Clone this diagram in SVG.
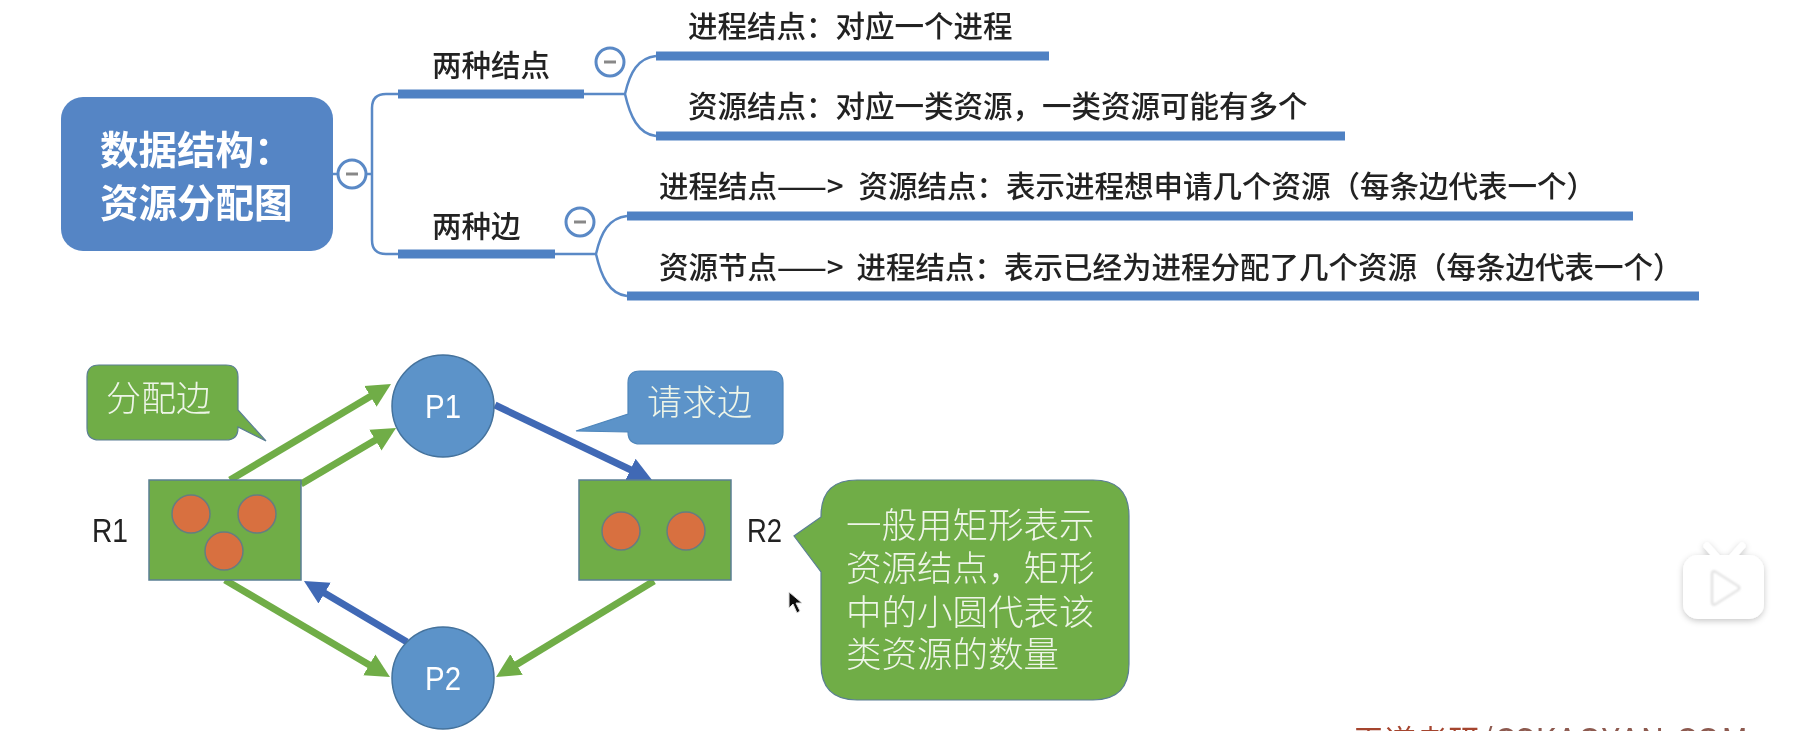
<svg xmlns="http://www.w3.org/2000/svg" width="1797" height="731" viewBox="0 0 1797 731">
<defs>
<style>
text{font-family:"Noto Sans CJK SC","Liberation Sans",sans-serif}
.dark{fill:#222}
.m{font-size:29.5px;font-weight:500}
.lat{font-family:"Liberation Sans",sans-serif;font-size:33px}
.root{font-size:38.5px;font-weight:700;fill:#fff}
.lt{font-weight:300;fill:#eef5e8}
.bar{fill:#4f81c3}
.link{fill:none;stroke:#5a89c6;stroke-width:2.5}
.toggle{fill:#fff;stroke:#5a89c6;stroke-width:3}
.minus{stroke:#888;stroke-width:3}
.ga{fill:none;stroke:#70ad47;stroke-width:7;marker-end:url(#g)}
.ba{fill:none;stroke:#4169b5;stroke-width:7;marker-end:url(#b)}
.res{fill:#70ad47;stroke:#5b7f94;stroke-width:1.5}
.tok{fill:#d86f3f;stroke:#667d80;stroke-width:1.5}
.proc{fill:#5b93c9;stroke:#44729c;stroke-width:1.5}
.pt{font-family:"Liberation Sans",sans-serif;font-size:33px;fill:#fff}
</style>
<marker id="g" markerUnits="userSpaceOnUse" markerWidth="26" markerHeight="26" refX="10" refY="13" orient="auto"><path d="M0 1 L24 13 L0 25 Z" fill="#70ad47"/></marker>
<marker id="b" markerUnits="userSpaceOnUse" markerWidth="26" markerHeight="26" refX="10" refY="13" orient="auto"><path d="M0 1 L24 13 L0 25 Z" fill="#4169b5"/></marker>
<filter id="soft" x="0" y="0" width="1797" height="760" filterUnits="userSpaceOnUse"><feGaussianBlur stdDeviation="0.6"/></filter>
<filter id="shadow" x="1660" y="530" width="130" height="110" filterUnits="userSpaceOnUse"><feDropShadow dx="0" dy="2" stdDeviation="3" flood-color="#000" flood-opacity="0.22"/></filter>
<filter id="inner" x="1700" y="560" width="60" height="60" filterUnits="userSpaceOnUse"><feGaussianBlur stdDeviation="1.2"/></filter>
</defs>
<rect width="1797" height="731" fill="#fff"/>
<g id="scene" filter="url(#soft)">
<g id="connectors">
<path class="link" d="M333 174H372M398 94H386Q372 94 372 108V240Q372 254 386 254H398"/>
<path class="link" d="M584 94H625M656 56C638 58 630 72 625 94C630 116 638 134 656 136"/>
<path class="link" d="M555 254H596M627 216C609 218 601 232 596 254C601 276 609 294 627 296"/>
<path class="ga" d="M230 480L379 391.2"/>
<path class="ga" d="M301 484L384 435.1"/>
<path class="ba" d="M495 405L639.4 474"/>
<path class="ga" d="M225 580L377.9 669.9"/>
<path class="ba" d="M407 642L316 588.1"/>
<path class="ga" d="M654 581L508 669.7"/>
</g>
<g id="root"><rect x="61" y="97" width="272" height="154" rx="22" fill="#5585c5"/><text class="root" x="100" y="164">数据结构：</text><text class="root" x="100" y="217">资源分配图</text></g>
<g id="toggle-root"><circle class="toggle" cx="352" cy="174" r="14"/><path class="minus" d="M346 174H358"/></g>
<g id="branch-nodes"><rect class="bar" x="398" y="89.5" width="186" height="9"/><text class="m dark" x="432" y="76">两种结点</text></g>
<g id="toggle-nodes"><circle class="toggle" cx="610" cy="62" r="14"/><path class="minus" d="M604 62H616"/></g>
<g id="branch-edges"><rect class="bar" x="398" y="249.5" width="157" height="9"/><text class="m dark" x="432" y="237">两种边</text></g>
<g id="toggle-edges"><circle class="toggle" cx="580" cy="222" r="14"/><path class="minus" d="M574 222H586"/></g>
<g id="leaf-process"><rect class="bar" x="656" y="51.5" width="393" height="9"/><text class="m dark" x="688" y="37">进程结点：对应一个进程</text></g>
<g id="leaf-resource"><rect class="bar" x="656" y="131.5" width="689" height="9"/><text class="m dark" x="688" y="117">资源结点：对应一类资源，一类资源可能有多个</text></g>
<g id="leaf-request"><rect class="bar" x="627" y="211.5" width="1006" height="9"/><text class="m dark" x="659" y="197">进程结点——&gt;<tspan dx="15">资源结点：表示进程想申请几个资源（每条边代表一个）</tspan></text></g>
<g id="leaf-assign"><rect class="bar" x="627" y="291.5" width="1072" height="9"/><text class="m dark" x="659" y="278">资源节点——&gt;<tspan dx="13">进程结点：表示已经为进程分配了几个资源（每条边代表一个）</tspan></text></g>
<g id="R1"><rect class="res" x="149" y="480" width="152" height="100"/><circle class="tok" cx="191" cy="514" r="19"/><circle class="tok" cx="257" cy="514" r="19"/><circle class="tok" cx="224" cy="551" r="19"/><text class="lat dark" x="92" y="542" textLength="36" lengthAdjust="spacingAndGlyphs">R1</text></g>
<g id="R2"><rect class="res" x="579" y="480" width="152" height="100"/><circle class="tok" cx="621" cy="531" r="19"/><circle class="tok" cx="686" cy="531" r="19"/><text class="lat dark" x="747" y="542" textLength="35" lengthAdjust="spacingAndGlyphs">R2</text></g>
<g id="P1"><circle class="proc" cx="443" cy="406" r="51"/><text class="pt" x="425" y="418" textLength="36" lengthAdjust="spacingAndGlyphs">P1</text></g>
<g id="P2"><circle class="proc" cx="443" cy="678" r="51"/><text class="pt" x="425" y="690" textLength="36" lengthAdjust="spacingAndGlyphs">P2</text></g>
<g id="callout-assign"><path d="M99 365H226Q238 365 238 377V410L266 441L238 427V428Q238 440 226 440H99Q87 440 87 428V377Q87 365 99 365Z" fill="#70ad47" stroke="#5b7f94" stroke-width="1.2"/><text class="lt" x="106" y="411" font-size="35">分配边</text></g>
<g id="callout-request"><path d="M640 371H771Q783 371 783 383V432Q783 444 771 444H640Q628 444 628 432L576 431L628 414V383Q628 371 640 371Z" fill="#5b93c9" stroke="#4f86bb" stroke-width="1.2"/><text class="lt" x="647" y="415" font-size="35">请求边</text></g>
<g id="callout-note"><path d="M857 480H1093Q1129 480 1129 516V664Q1129 700 1093 700H857Q821 700 821 664V572L794 536L821 517V516Q821 480 857 480Z" fill="#70ad47" stroke="#5b7f94" stroke-width="1.2"/>
<text class="lt" font-size="35.5" x="846" y="538">一般用矩形表示</text><text class="lt" font-size="35.5" x="846" y="581">资源结点，矩形</text><text class="lt" font-size="35.5" x="846" y="625">中的小圆代表该</text><text class="lt" font-size="35.5" x="846" y="667">类资源的数量</text></g>
<path id="cursor" d="M789 592V608L793 604L797 613L800 611L796 603L802 603Z" fill="#111" stroke="#ddd" stroke-width="1"/>
<text id="watermark" x="1353" y="752" fill="#a5452f" font-size="31" textLength="395">王道考研<tspan fill="#8d5a50" font-size="33">/CSKAOYAN.COM</tspan></text>
</g>
<g id="logo">
<g filter="url(#shadow)" fill="#fff"><path d="M1707 546L1716 556M1742 546L1733 556" stroke="#fff" stroke-width="7" stroke-linecap="round"/><rect x="1683" y="555" width="81" height="64" rx="15"/></g>
<path d="M1712 574Q1712 570 1716 572L1738 586Q1741 588 1738 590L1716 604Q1712 606 1712 602Z" fill="none" stroke="#ddd" stroke-width="2" filter="url(#inner)"/>
</g>
</svg>
